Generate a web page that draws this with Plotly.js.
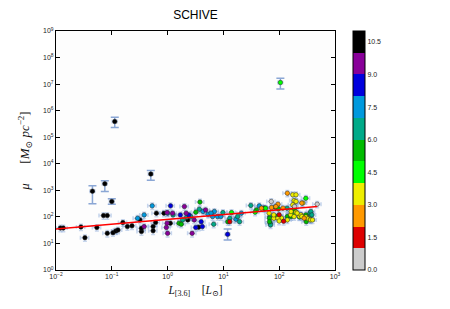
<!DOCTYPE html>
<html><head><meta charset="utf-8">
<script src="https://cdn.plot.ly/plotly-3.0.1.min.js"></script>
<style>body{margin:0;background:#fff}#chart{width:450px;height:309px}</style>
</head><body><div id="chart"></div>
<script>
// Main galaxy points: luminosity L[3.6] (L_sun), surface density mu (M_sun pc^-2), colour value
const lumX = [
  0.012,0.0135,0.028,0.033,0.054,0.071,0.083,0.083,0.105,0.118,0.129,0.158,0.19,0.23,0.32,0.34,0.34,0.55,0.55,0.61,0.63,0.86,1.12,2.3,3.6,
  0.29,0.38,0.53,1.0,4.3,5.3,6.9,6.4,7.9,9.0,16.8,21,44,6.0,
  1.25,2.2,1.86,2.6,3.7,6.7,9.8,13,18,19.5,31,68,69,70,138,355,370,385,
  1.13,1.69,2.4,3.2,4.0,4.2,
  0.38,0.98,1.0,0.95,1.23,0.98,2.0,2.15,2.75,3.0,4.8,
  1.6,1.76,3.2,3.8,12,39,53,55,67,67,85,97,88,107,140,163,185,170,300,320,305,
  14,37,57,100,170,300,230,
  66,80,110,175,200,185,265,160,200,230,250,300,330,360,200,175,245,163,80,95,100,140,255,185,210,365,395,
  48,73,95,117,140,254,280,87,
  13,100,120,
  72,188,480
];
const muY = [
  38,38,42,16.5,40,112,112,24,25.5,29.6,32,61,43,46,77,28,37,43,30,61,138,138,58,77,41,
  89,119,260,138,160,126,160,103,103,103,82,138,260,138,
  119,97,77,103,195,53,145,89,103,66,270,103,58,50,213,138,160,119,
  260,119,119,40,66,43,
  43,145,24,40,138,58,245,138,24,77,183,
  58,53,150,360,66,183,213,213,89,66,230,200,103,89,103,103,195,138,119,95,66,
  145,150,213,90,125,500,100,
  138,89,90,680,680,410,330,120,150,105,115,100,85,80,380,285,119,160,119,89,70,77,103,103,138,77,77,
  213,225,300,213,780,330,89,245,
  66,120,68,
  380,245,300
];
const colorVal = [
  10.5,10.5,10.5,10.5,10.5,10.5,10.5,10.5,10.5,10.5,10.5,10.5,10.5,10.5,10.5,10.5,10.5,10.5,10.5,10.5,10.5,10.5,10.5,10.5,10.5,
  7.5,7.5,7.5,7.5,7.5,7.5,7.5,7.5,7.5,7.5,7.5,7.5,7.5,7.5,
  6.5,6.5,6.5,6.5,6.5,6.5,6.5,6.5,6.5,6.5,6.5,6.5,6.5,6.5,6.5,6.5,6.5,6.5,
  8.5,8.5,8.5,8.5,8.5,8.5,
  9.5,9.5,9.5,9.5,9.5,9.5,9.5,9.5,9.5,9.5,9.5,
  5.5,5.5,5.5,5.5,5.5,5.5,5.5,5.5,5.5,5.5,5.5,5.5,5.5,5.5,5.5,5.5,5.5,5.5,5.5,5.5,5.5,
  4.5,4.5,4.5,4.5,4.5,4.5,4.5,
  3.5,3.5,3.5,3.5,3.5,3.5,3.5,3.5,3.5,3.5,3.5,3.5,3.5,3.5,3.5,3.5,3.5,3.5,3.5,3.5,3.5,3.5,3.5,3.5,3.5,3.5,3.5,
  2.5,2.5,2.5,2.5,2.5,2.5,2.5,2.5,
  1.5,1.5,1.5,
  0.5,0.5,0.5
];

// Points with large, individually drawn error bars
const outX = [0.045, 0.075, 0.10, 0.113, 0.50, 105, 11.9];
const outY = [930, 1760, 380, 390000, 4100, 11500000, 22];
const outErrPlus = [570, 540, 100, 170000, 1500, 5000000, 13];
const outErrMinus = [620, 860, 80, 160000, 1700, 4900000, 8.5];
const outColor = [10.5, 10.5, 10.5, 10.5, 10.5, 4.5, 8.5];

// Power-law fit line
const fitX = [0.01, 480];
const fitY = [35, 245];

// Colour bins (11 bins over 0..11)
const binColors = ['#cccccc','#dd0000','#ff9900','#eeee00','#00ff00','#00bb00','#00aa88','#0099dd','#0000dd','#880099','#000000'];
const cbTicks = [0, 1.5, 3, 4.5, 6, 7.5, 9, 10.5];

const xTickVals = [0.01, 0.1, 1, 10, 100, 1000];
const xTickText = ['10<sup>\u22122</sup>','10<sup>\u22121</sup>','10<sup>0</sup>','10<sup>1</sup>','10<sup>2</sup>','10<sup>3</sup>'];
const yTickVals = [1,10,100,1e3,1e4,1e5,1e6,1e7,1e8,1e9];
const yTickText = ['10<sup>0</sup>','10<sup>1</sup>','10<sup>2</sup>','10<sup>3</sup>','10<sup>4</sup>','10<sup>5</sup>','10<sup>6</sup>','10<sup>7</sup>','10<sup>8</sup>','10<sup>9</sup>'];

const cscale = [];
binColors.forEach((c, i) => { cscale.push([i / 11, c]); cscale.push([(i + 1) / 11, c]); });

const errCol = 'rgba(110,150,210,0.38)';
const main = {
  type: 'scatter', mode: 'markers', x: lumX, y: muY,
  error_x: {type: 'percent', value: 17, color: errCol, thickness: 1.5, width: 2},
  error_y: {type: 'percent', value: 27, color: errCol, thickness: 1.5, width: 2},
  marker: {size: 4.5, color: colorVal, colorscale: cscale, cmin: 0, cmax: 11,
    line: {color: '#222', width: 0.5},
    colorbar: {x: 1.064, xanchor: 'left', xpad: 0, y: 0.5, yanchor: 'middle', ypad: 0,
      thickness: 12, len: 239, lenmode: 'pixels', outlinecolor: '#000', outlinewidth: 1,
      tickvals: cbTicks, tickformat: '.1f', ticks: '', tickfont: {size: 7, family: 'Liberation Sans, Arial, sans-serif', color: '#222'}}},
  showlegend: false, hoverinfo: 'skip'
};
const outl = {
  type: 'scatter', mode: 'markers', x: outX, y: outY,
  error_y: {type: 'data', symmetric: false, array: outErrPlus, arrayminus: outErrMinus, color: 'rgba(90,130,195,0.7)', thickness: 1.5, width: 4},
  error_x: {type: 'percent', value: 10, color: errCol, thickness: 1.5, width: 2},
  marker: {size: 4.5, color: outColor, colorscale: cscale, cmin: 0, cmax: 11, line: {color: '#222', width: 0.5}, showscale: false},
  showlegend: false, hoverinfo: 'skip'
};
const fit = {type: 'scatter', mode: 'lines', x: fitX, y: fitY, line: {color: '#ff0000', width: 1.5}, showlegend: false, hoverinfo: 'skip'};

const tf = {size: 7, family: 'Liberation Sans, Arial, sans-serif', color: '#222'};
const layout = {
  width: 450, height: 309,
  margin: {l: 56, r: 115, t: 31, b: 39, pad: 0},
  paper_bgcolor: '#ffffff', plot_bgcolor: '#fdfdfd',
  title: {text: 'SCHIVE', x: 0.5, xref: 'paper', y: 0.952, yanchor: 'middle', font: {size: 12, family: 'Liberation Sans, Arial, sans-serif', color: '#000'}},
  xaxis: {type: 'log', range: [-2, 3], tickmode: 'array', tickvals: xTickVals, ticktext: xTickText,
    ticks: 'inside', ticklen: 4, tickcolor: '#000', showline: true, mirror: 'ticks', linecolor: '#000', linewidth: 1,
    showgrid: false, zeroline: false, tickfont: tf,
    title: {text: '<i>L</i><sub>[3.6]</sub>    [<i>L</i><sub>\u2299</sub>]', standoff: 6, font: {size: 11.5, family: 'Liberation Serif, DejaVu Serif, serif', color: '#111'}}},
  yaxis: {type: 'log', range: [0, 9], tickmode: 'array', tickvals: yTickVals, ticktext: yTickText,
    ticks: 'inside', ticklen: 4, tickcolor: '#000', showline: true, mirror: 'ticks', linecolor: '#000', linewidth: 1,
    showgrid: false, zeroline: false, tickfont: tf,
    title: {text: '<i>\u03bc</i>      [<i>M</i><sub>\u2299</sub> <i>pc</i><sup>\u22122</sup>]', standoff: 10, font: {size: 13, family: 'Liberation Serif, DejaVu Serif, serif', color: '#111'}}}
};
Plotly.newPlot('chart', [main, outl, fit], layout, {displayModeBar: false, staticPlot: true});
</script>
</body></html>
